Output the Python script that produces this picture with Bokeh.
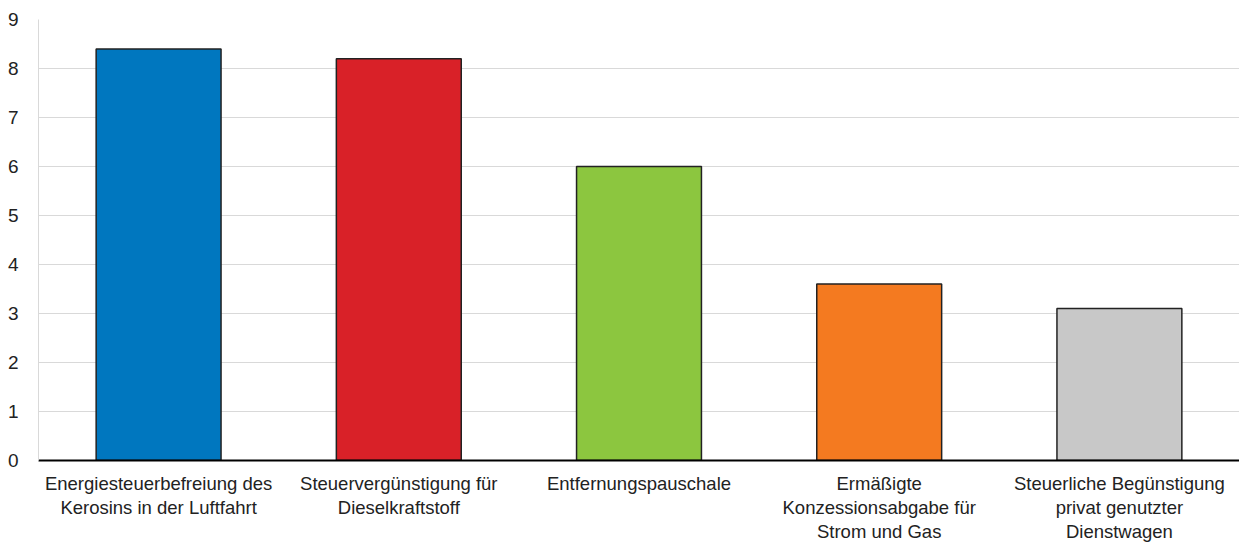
from bokeh.plotting import figure
from bokeh.models import ColumnDataSource, FactorRange, Range1d, FixedTicker
from bokeh.embed import file_html
from bokeh.resources import INLINE

categories = [
    "Energiesteuerbefreiung des\nKerosins in der Luftfahrt",
    "Steuervergünstigung für\nDieselkraftstoff",
    "Entfernungspauschale",
    "Ermäßigte\nKonzessionsabgabe für\nStrom und Gas",
    "Steuerliche Begünstigung\nprivat genutzter\nDienstwagen",
]
values = [8.4, 8.2, 6.0, 3.6, 3.1]
colors = ["#0077BF", "#D92128", "#8CC63F", "#F47A20", "#C8C8C8"]
y_ticks = [0, 1, 2, 3, 4, 5, 6, 7, 8, 9]

src = ColumnDataSource(dict(cat=categories, val=values, color=colors))

p = figure(width=1239, height=544, x_range=FactorRange(*categories, range_padding=0),
           y_range=Range1d(0, 9), output_backend="svg", toolbar_location=None,
           min_border_left=38, min_border_right=0, min_border_top=19, min_border_bottom=83)
p.vbar(x="cat", top="val", width=0.52, source=src, fill_color="color",
       line_color="#222222", line_width=1.5)

p.outline_line_color = None
p.xgrid.grid_line_color = None
p.ygrid.grid_line_color = "#D9D9D9"
p.ygrid.grid_line_width = 1.2
p.yaxis.ticker = FixedTicker(ticks=y_ticks)
p.yaxis.axis_line_color = "#D9D9D9"
p.yaxis.major_tick_line_color = None
p.yaxis.minor_tick_line_color = None
p.yaxis.major_label_text_font = "Liberation Sans"
p.yaxis.major_label_text_font_size = "19px"
p.yaxis.major_label_text_color = "#222222"
p.yaxis.major_label_standoff = 14

p.xaxis.axis_line_color = "#000000"
p.xaxis.axis_line_width = 2
p.xaxis.major_tick_line_color = None
p.xaxis.minor_tick_line_color = None
p.xaxis.major_label_text_font = "Liberation Sans"
p.xaxis.major_label_text_font_size = "18.5px"
p.xaxis.major_label_text_color = "#222222"
p.xaxis.major_label_text_line_height = 1.15
p.xaxis.major_label_standoff = 6
p.xaxis.major_label_orientation = "horizontal"

open("out.html", "w").write(file_html(p, INLINE))
